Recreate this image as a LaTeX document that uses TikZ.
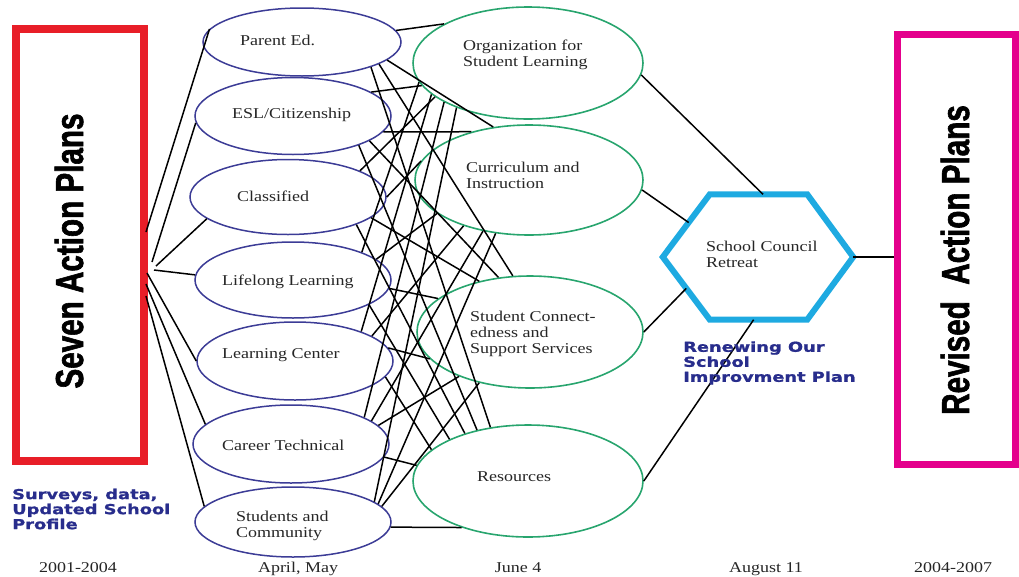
\documentclass[tikz,border=0pt]{standalone}
\usepackage{fontspec}
\usepackage{graphicx}
\setmainfont{Liberation Serif}[FakeStretch=1.2]
\newfontfamily\boldblue{DejaVu Sans}[FakeStretch=1.3,FakeBold=1.2]
\newfontfamily\condfont{Liberation Sans}[FakeStretch=0.76,FakeBold=1.5]
\usetikzlibrary{shapes.geometric,calc}
\definecolor{boxred}{RGB}{232,30,40}
\definecolor{boxmag}{RGB}{228,0,140}
\definecolor{hexcyan}{RGB}{30,170,225}
\definecolor{ellblue}{RGB}{60,60,150}
\definecolor{ellgreen}{RGB}{40,165,110}
\definecolor{navytext}{RGB}{40,45,140}
\tikzset{
  plan/.style={ellipse, draw=ellblue, line width=1.5pt, inner sep=0pt, minimum width=196pt, minimum height=76pt},
  goal/.style={ellipse, draw=ellgreen, line width=1.6pt, inner sep=0pt},
  lbl/.style={font=\fontsize{15}{16}\selectfont, text=black!85, anchor=west, align=left, inner sep=0pt},
  datelbl/.style={font=\fontsize{15}{16}\selectfont, text=black!85, inner sep=0pt},
  navylbl/.style={font=\boldblue\bfseries\fontsize{13.7}{15}\selectfont, text=navytext, anchor=west, align=left, inner sep=0pt},
  biglbl/.style={font=\condfont\bfseries\fontsize{39}{39}\selectfont, rotate=90, anchor=base, inner sep=0pt},
  link/.style={line width=1.5pt, black},
}
\begin{document}
\begin{tikzpicture}[x=1pt,y=-1pt]
\useasboundingbox (0,0) rectangle (1019,576);

% outer boxes
\node[draw=boxred, line width=8pt, minimum width=128pt, minimum height=432pt, inner sep=0pt] (seven) at (80,245) {};
\node[biglbl] (sevenlbl) at (83,251) {Seven Action Plans};
\node[draw=boxmag, line width=7pt, minimum width=118pt, minimum height=430pt, inner sep=0pt] (revised) at (956,249) {};
\node[biglbl] (revisedlbl) at (969,260) {Revised\ \ Action Plans};

% plan ellipses
\node[plan, minimum width=198pt, minimum height=68pt] (b1) at (302,42) {};
\node[plan, minimum height=77pt] (b2) at (293,116) {};
\node[plan, minimum height=75pt] (b3) at (288,197) {};
\node[plan] (b4) at (293,280) {};
\node[plan, minimum height=78pt] (b5) at (295,361) {};
\node[plan, minimum height=78pt] (b6) at (291,444) {};
\node[plan, minimum height=70pt] (b7) at (293,522) {};

% goal ellipses
\node[goal, minimum width=230pt, minimum height=112pt] (g1) at (528,63) {};
\node[goal, minimum width=228pt, minimum height=110pt] (g2) at (529,180) {};
\node[goal, minimum width=226pt, minimum height=112pt] (g3) at (530,332) {};
\node[goal, minimum width=230pt, minimum height=112pt] (g4) at (528,481) {};

% hexagon
\node[minimum width=190pt, minimum height=125pt, inner sep=0pt] (hex) at (758,257) {};
\coordinate (hTL) at ([xshift=47pt]hex.north west);
\coordinate (hTR) at ([xshift=-46pt]hex.north east);
\coordinate (hBR) at ([xshift=-46pt]hex.south east);
\coordinate (hBL) at ([xshift=47pt]hex.south west);
\draw[hexcyan, line width=6pt, line join=miter] (hex.west) -- (hTL) -- (hTR) -- (hex.east) -- (hBR) -- (hBL) -- cycle;

% fan from the left box
\coordinate (f1) at (146,232);
\coordinate (f2) at (152,262);
\coordinate (f3) at (156,266);
\coordinate (f4) at (154,270);
\coordinate (f5) at (147,273);
\coordinate (f6) at (146,284);
\coordinate (f7) at (146,296);
\draw[link] (f1) -- (b1.172);
\draw[link] (f2) -- (b2.184);
\draw[link] (f3) -- (b3.195);
\draw[link] (f4) -- (b4.177);
\draw[link] (f5) -- (b5.180);
\draw[link] (f6) -- (b6.167);
\draw[link] (f7) -- (b7.170);

% plans to goals
\foreach \b/\g/\s/\e in {
  b1/g1/7/155, b1/g2/-12/124, b1/g3/-16/107, b1/g4/-20/125,
  b2/g1/17/192, b2/g2/-10/140, b2/g3/-18/120, b2/g4/-24/135,
  b3/g1/20/200, b3/g2/0/170, b3/g3/-14/135, b3/g4/-22/143,
  b4/g1/22/190, b4/g2/14/200, b4/g3/-5/160, b4/g4/-18/152,
  b5/g1/24/198, b5/g2/18/215, b5/g3/8/195, b5/g4/-10/162,
  b6/g1/20/205, b6/g2/16/228, b6/g3/12/212, b6/g4/-8/172,
  b7/g1/14/212, b7/g2/12/238, b7/g3/10/225, b7/g4/-3/215}
  \draw[link] (\b.\s) -- (\g.\e);

% goals to retreat
\draw[link] (g1.-6) -- ([xshift=5pt]hex.north);
\draw[link] (g2.-5) -- ($(hex.west)!0.55!(hTL)$);
\draw[link] (g3.east) -- ($(hex.west)!0.5!(hBL)$);
\draw[link] (g4.east) -- ($(hBL)!0.45!(hBR)$);
\draw[link] (hex.east) -- (hex.east -| revised.west);

% labels
\node[lbl] (t1) at (240,40) {Parent Ed.};
\node[lbl] (t2) at (232,115) {ESL/Citizenship};
\node[lbl] (t3) at (237,196) {Classified};
\node[lbl] (t4) at (222,282) {Lifelong Learning};
\node[lbl] (t5) at (222,355) {Learning Center};
\node[lbl] (t6) at (222,445) {Career Technical};
\node[lbl] (t7) at (236,526) {Students and\\Community};
\node[lbl] (u1) at (463,55) {Organization for\\Student Learning};
\node[lbl] (u2) at (466,175) {Curriculum and\\Instruction};
\node[lbl] (u3) at (470,334) {Student Connect-\\edness and\\Support Services};
\node[lbl] (u4) at (477,477) {Resources};
\node[lbl] (hextxt) at (706,254) {School Council\\Retreat};

\node[navylbl] (surveys) at (12,509) {Surveys, data,\\Updated School\\Profile};
\node[navylbl] (renew) at (683,363) {Renewing Our\\School\\Improvment Plan};

\node[datelbl] (d1) at (78,568) {2001-2004};
\node[datelbl] (d2) at (298,569) {April, May};
\node[datelbl] (d3) at (518,568) {June 4};
\node[datelbl] (d4) at (766,569) {August 11};
\node[datelbl] (d5) at (953,568) {2004-2007};
\end{tikzpicture}
\end{document}
